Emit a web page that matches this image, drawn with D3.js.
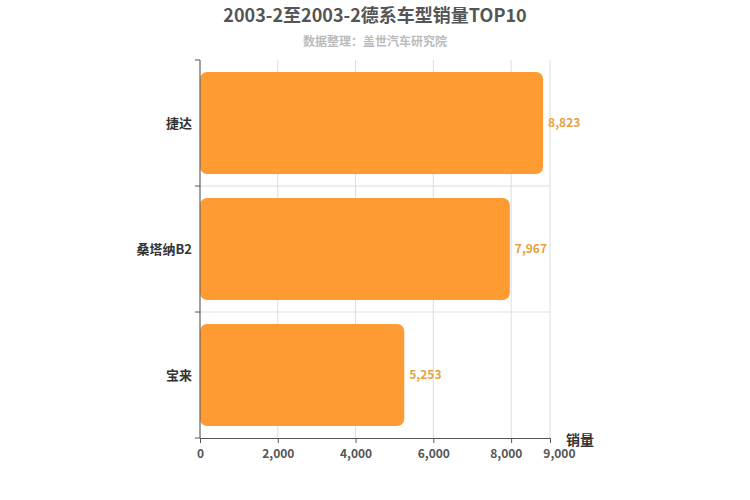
<!DOCTYPE html><html><head><meta charset="utf-8"><script src="https://cdn.jsdelivr.net/npm/d3@7"></script>
<style>body{margin:0;background:#fff}text{font-family:"Noto Sans CJK SC","DejaVu Sans",sans-serif}</style></head><body><svg id="c" width="750" height="500"></svg>
<script>
const categories=["捷达","桑塔纳B2","宝来"];
const values=[8823,7967,5253];
const xTicks=[0,2000,4000,6000,8000,9000];
const svg=d3.select("#c");
const x=d3.scaleLinear().domain([0,9000]).range([200,550]);
const y=d3.scaleBand().domain(categories).range([60,438]).paddingInner(0.19).paddingOuter(0.095);
svg.append("text").attr("x",375).attr("y",22).attr("text-anchor","middle").attr("font-size",18).attr("font-weight","bold").attr("fill","#555").text("2003-2至2003-2德系车型销量TOP10");
svg.append("text").attr("x",375).attr("y",46).attr("text-anchor","middle").attr("font-size",12).attr("font-weight","bold").attr("fill","#bbb").text("数据整理：盖世汽车研究院");
const g=svg.append("g");
xTicks.forEach(t=>g.append("line").attr("x1",x(t)).attr("x2",x(t)).attr("y1",60).attr("y2",438).attr("stroke","#ddd"));
[186,312].forEach(v=>g.append("line").attr("x1",200).attr("x2",550).attr("y1",v).attr("y2",v).attr("stroke","#ddd"));
svg.append("g").selectAll("rect").data(values).join("rect").attr("x",x(0)).attr("y",(d,i)=>y(categories[i])).attr("width",d=>x(d)-x(0)).attr("height",y.bandwidth()).attr("rx",7).attr("fill","#ff9b33");
svg.append("g").selectAll("text").data(values).join("text").attr("x",d=>x(d)+5).attr("y",(d,i)=>y(categories[i])+y.bandwidth()/2+4).attr("font-size",12).attr("font-weight","bold").attr("fill","#e8a040").text(d=>d3.format(",")(d));
const ax=svg.append("g").attr("transform","translate(0,438)").call(d3.axisBottom(x).tickValues(xTicks).tickFormat(d3.format(",")).tickSize(5));
ax.select(".domain").attr("stroke","#555");ax.selectAll("line").attr("stroke","#555");
ax.selectAll("text").attr("font-size",12).attr("font-weight","bold").attr("fill","#555").attr("dy","1em");
ax.selectAll("text").filter(d=>d===8000).attr("text-anchor","end").attr("dx","0.9em");
ax.selectAll("text").filter(d=>d===9000).attr("text-anchor","start").attr("dx","-0.6em");
const ay=svg.append("g").attr("transform","translate(200,0)");
ay.append("line").attr("x1",0).attr("x2",0).attr("y1",60).attr("y2",438).attr("stroke","#555");
[60,186,312,438].forEach(v=>ay.append("line").attr("x1",-5).attr("x2",0).attr("y1",v).attr("y2",v).attr("stroke","#555"));
categories.forEach(c=>ay.append("text").attr("x",-8).attr("y",y(c)+y.bandwidth()/2+5).attr("text-anchor","end").attr("font-size",13).attr("font-weight","bold").attr("fill","#333").text(c));
svg.append("text").attr("x",580).attr("y",445).attr("text-anchor","middle").attr("font-size",14).attr("font-weight","bold").attr("fill","#333").text("销量");
</script></body></html>
